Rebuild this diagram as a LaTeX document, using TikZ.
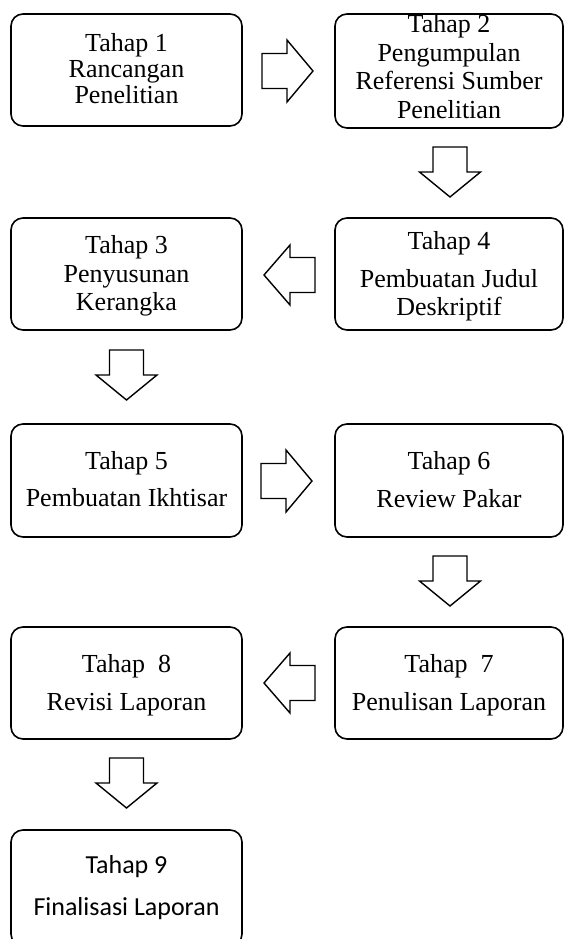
\documentclass[tikz,border=0pt]{standalone}
\usepackage{fontspec}
\newfontfamily\tnr{Liberation Serif}
\newfontfamily\carl{Carlito}
\begin{document}
\begin{tikzpicture}[x=1pt,y=-1pt]
\tikzset{
  box/.style={draw, line width=1.6pt, rounded corners=12pt, inner sep=0pt},
  ln/.style={anchor=base, inner sep=0pt, font={\tnr\fontsize{26}{30}\selectfont}},
  lns/.style={anchor=base, inner sep=0pt, font={\carl\fontsize{26}{30}\selectfont}},
  blk/.style={draw, line width=1.4pt, fill=white, line join=miter},
  rarr/.pic={\draw[blk] (0,-17.5)--(25,-17.5)--(25,-31)--(51,0)--(25,31)--(25,17.5)--(0,17.5)--cycle;},
  larr/.pic={\draw[blk] (0,-17.5)--(-25,-17.5)--(-25,-30)--(-51,0)--(-25,30)--(-25,17.5)--(0,17.5)--cycle;},
  darr/.pic={\draw[blk] (-17,0)--(-17,25)--(-30.5,25)--(0,50)--(30.5,25)--(17,25)--(17,0)--cycle;},
}
\useasboundingbox (0,0) rectangle (564,939);
\fill[white] (0,0) rectangle (564,939);

% boxes
\node[box, minimum width=231pt, minimum height=112pt] (b1) at (126.5,70) {};
\node[box, minimum width=228pt, minimum height=114pt] (b2) at (449,71) {};
\node[box, minimum width=231pt, minimum height=112pt] (b3) at (126.5,274) {};
\node[box, minimum width=228pt, minimum height=112pt] (b4) at (449,274) {};
\node[box, minimum width=231pt, minimum height=113pt] (b5) at (126.5,480.5) {};
\node[box, minimum width=228pt, minimum height=113pt] (b6) at (449,480.5) {};
\node[box, minimum width=228pt, minimum height=112pt] (b7) at (449,683) {};
\node[box, minimum width=231pt, minimum height=112pt] (b8) at (126.5,683) {};
\node[box, minimum width=231pt, minimum height=116pt] (b9) at (126.5,888) {};

% texts
\node[ln] (t1a) at (126.5,52) {Tahap 1};
\node[ln] (t1b) at (126.5,78) {Rancangan};
\node[ln] (t1c) at (126.5,104) {Penelitian};

\node[ln] (t2a) at (449,33) {Tahap 2};
\node[ln] (t2b) at (449,62) {Pengumpulan};
\node[ln] (t2c) at (449,90) {Referensi Sumber};
\node[ln] (t2d) at (449,118) {Penelitian};

\node[ln] (t3a) at (126.5,253) {Tahap 3};
\node[ln] (t3b) at (126.5,282) {Penyusunan};
\node[ln] (t3c) at (126.5,310) {Kerangka};

\node[ln] (t4a) at (449,249) {Tahap 4};
\node[ln] (t4b) at (449,287) {Pembuatan Judul};
\node[ln] (t4c) at (449,315) {Deskriptif};

\node[ln] (t5a) at (126.5,469) {Tahap 5};
\node[ln] (t5b) at (126.5,506) {Pembuatan Ikhtisar};

\node[ln] (t6a) at (449,469) {Tahap 6};
\node[ln] (t6b) at (449,507) {Review Pakar};

\node[ln] (t7a) at (449,672) {Tahap\ \ 7};
\node[ln] (t7b) at (449,710) {Penulisan Laporan};

\node[ln] (t8a) at (126.5,672) {Tahap\ \ 8};
\node[ln] (t8b) at (126.5,710) {Revisi Laporan};

\node[lns] (t9a) at (126.5,873) {Tahap 9};
\node[lns] (t9b) at (126.5,915) {Finalisasi Laporan};

% block arrows
\pic (a12) at (262,71) {rarr};
\pic (a24) at (450,147) {darr};
\pic (a43) at (315,275) {larr};
\pic (a35) at (126.5,350) {darr};
\pic (a56) at (261,481) {rarr};
\pic (a67) at (450,556) {darr};
\pic (a78) at (315,683) {larr};
\pic (a89) at (126.5,758) {darr};
\end{tikzpicture}
\end{document}
